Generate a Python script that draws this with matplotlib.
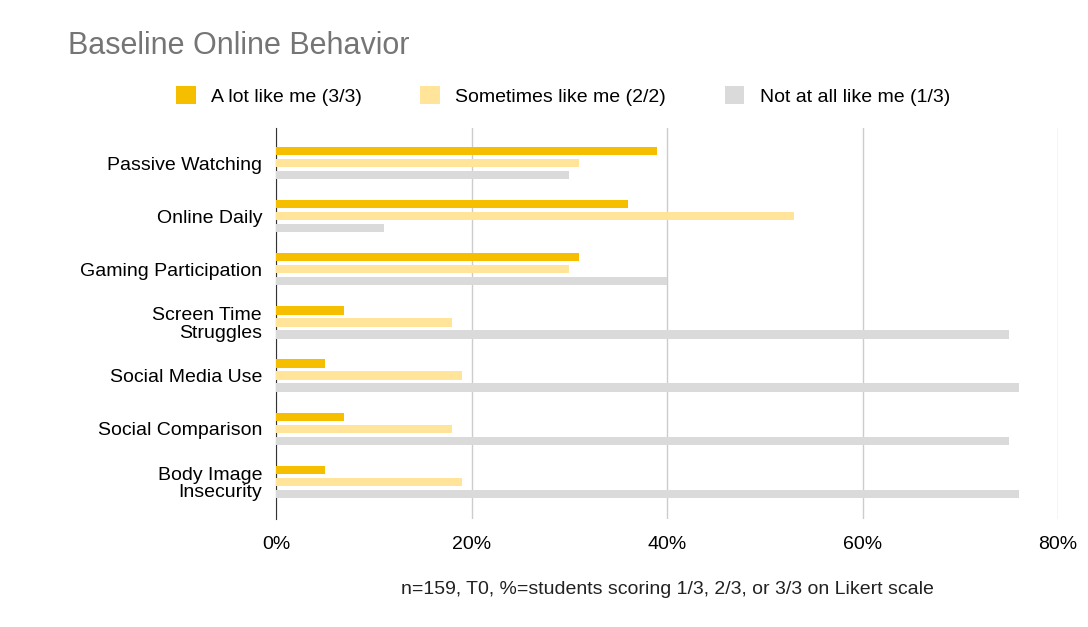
import numpy as np
import matplotlib.pyplot as plt
from matplotlib.ticker import FuncFormatter

categories = ["Passive Watching", "Online Daily", "Gaming Participation",
              "Screen Time\nStruggles", "Social Media Use", "Social Comparison",
              "Body Image\nInsecurity"]
a_lot = [39, 36, 31, 7, 5, 7, 5]
sometimes = [31, 53, 30, 18, 19, 18, 19]
not_at_all = [30, 11, 40, 75, 76, 75, 76]
series_names = ["A lot like me (3/3)", "Sometimes like me (2/2)", "Not at all like me (1/3)"]
colors = ["#F5BF00", "#FFE49A", "#DADADA"]

plt.rcParams['font.family'] = ['Liberation Sans', 'DejaVu Sans']
fig = plt.figure(figsize=(10.88, 6.27), dpi=100)
ax = fig.add_axes([276 / 1088, 1 - 519 / 627, (1058 - 276) / 1088, (519 - 128) / 627])

y = np.arange(len(categories))
h = 0.155
for i, vals in enumerate([a_lot, sometimes, not_at_all]):
    ax.barh(y + (i - 1) * 0.226, vals, height=h, color=colors[i], label=series_names[i], zorder=3)

ax.set_ylim(6.7, -0.66)
ax.set_xlim(0, 80)
ax.set_xticks([0, 20, 40, 60, 80])
ax.xaxis.set_major_formatter(FuncFormatter(lambda v, p: f"{v:.0f}%"))
ax.set_yticks(y)
ax.set_yticklabels(categories, fontsize=14, linespacing=1.05)
ax.tick_params(axis='x', labelsize=14, length=0, pad=12)
ax.tick_params(axis='y', length=0, pad=10)
ax.grid(axis='x', color='#CCCCCC', linewidth=1, zorder=0)
for s in ['top', 'right', 'bottom']:
    ax.spines[s].set_visible(False)
ax.spines['left'].set_color('#333333')

fig.text(68 / 1088, 1 - 46 / 627, "Baseline Online Behavior", fontsize=22, color='#757575', va='center')
fig.legend(loc='center', bbox_to_anchor=(563 / 1088, 1 - 96 / 627), ncol=3, frameon=False,
           fontsize=14, handlelength=1.0, handleheight=1.0, columnspacing=3.0, handletextpad=0.8)
fig.text(667 / 1088, 1 - 589 / 627, "n=159, T0, %=students scoring 1/3, 2/3, or 3/3 on Likert scale",
         fontsize=14, ha='center', va='center', color='#222222')

fig.savefig("out.png", dpi=100)
